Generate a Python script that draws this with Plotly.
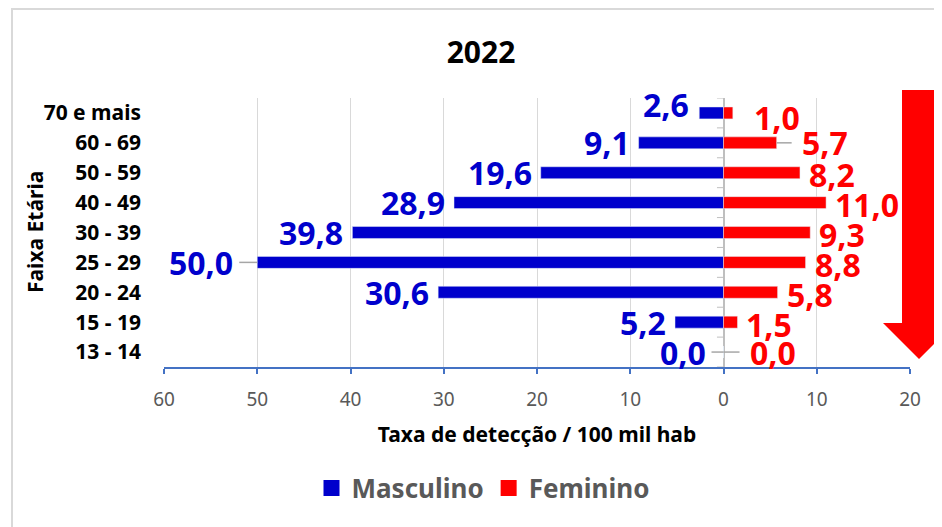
import plotly.graph_objects as go

# ---- data ----
faixas = ["70 e mais", "60 - 69", "50 - 59", "40 - 49", "30 - 39",
          "25 - 29", "20 - 24", "15 - 19", "13 - 14"]
masculino = [2.6, 9.1, 19.6, 28.9, 39.8, 50.0, 30.6, 5.2, 0.0]
feminino = [1.0, 5.7, 8.2, 11.0, 9.3, 8.8, 5.8, 1.5, 0.0]
x_ticks = [-60, -50, -40, -30, -20, -10, 0, 10, 20]
titulo = "2022"

# ---- style ----
BLUE = "#0000CC"
RED = "#FF0000"
GREY_LEADER = "#A6A6A6"
FONT = "Noto Sans"
# label offsets (px gap from bar end, vertical shift) for labels moved in the original
nudge_m = {"70 e mais": (8, 8), "25 - 29": (22, 0), "13 - 14": (16, 0)}
nudge_f = {"70 e mais": (19, -5), "60 - 69": (23, 0), "13 - 14": (24, 0)}
leader_m = {"25 - 29", "13 - 14"}
leader_f = {"60 - 69", "13 - 14"}

OFF = 8  # page body margin
W, H = 942 - OFF, 527 - OFF
L, T = 164 - OFF, 98 - OFF
R = W - (910 - OFF)
B = H - (367 - OFF)
PW, PH = W - L - R, H - T - B
UNIT = PW / 80.0  # px per data unit


def px(x):  # reference-picture x -> paper
    return (x - OFF - L) / PW


def py(y):  # reference-picture y -> paper
    return (H - B - (y - OFF)) / PH


def fmt(v):
    return f"{v:.1f}".replace(".", ",")


fig = go.Figure()
fig.add_trace(go.Bar(y=faixas, x=[-v for v in masculino], orientation="h",
                     name="Masculino", marker_color=BLUE, showlegend=False, legendgroup="m",
                     customdata=masculino, hovertemplate="%{y}: %{customdata}<extra>Masculino</extra>"))
fig.add_trace(go.Bar(y=faixas, x=feminino, orientation="h", showlegend=False, legendgroup="f",
                     name="Feminino", marker_color=RED))
# legend entries with larger square keys
fig.add_trace(go.Scatter(x=[None], y=[None], mode="markers", name="Masculino", legendgroup="m",
                         marker=dict(symbol="square", size=16, color=BLUE)))
fig.add_trace(go.Scatter(x=[None], y=[None], mode="markers", name="Feminino", legendgroup="f",
                         marker=dict(symbol="square", size=16, color=RED)))

annotations = []
shapes = []
for cat, m, f in zip(faixas, masculino, feminino):
    gm, dm = nudge_m.get(cat, (7, 0))
    gf, df = nudge_f.get(cat, (7, -2))
    annotations.append(dict(x=-m, y=cat, xref="x", yref="y", text=fmt(m), showarrow=False,
                            xanchor="right", yanchor="middle", xshift=-gm, yshift=dm,
                            font=dict(family=FONT, size=32, color=BLUE, weight="bold")))
    annotations.append(dict(x=f, y=cat, xref="x", yref="y", text=fmt(f), showarrow=False,
                            xanchor="left", yanchor="middle", xshift=gf, yshift=df,
                            font=dict(family=FONT, size=32, color=RED, weight="bold")))
    # small leader lines like the original
    if cat in leader_m:
        shapes.append(dict(type="line", xref="x", yref="y", x0=-m, x1=-m - (gm - 4) / UNIT,
                           y0=cat, y1=cat, line=dict(color=GREY_LEADER, width=1.5)))
    if cat in leader_f:
        shapes.append(dict(type="line", xref="x", yref="y", x0=f, x1=f + (gf - 8) / UNIT,
                           y0=cat, y1=cat, line=dict(color=GREY_LEADER, width=1.5)))

annotations.append(dict(text="Faixa Etária", textangle=-90, xref="paper", yref="paper",
                        x=px(35), y=py(232), xanchor="center", yanchor="middle", showarrow=False,
                        font=dict(family=FONT, size=21, color="black", weight="bold")))

# chart border (light grey)
shapes.append(dict(type="path", xref="paper", yref="paper",
                   path=f"M {px(12)},{py(560)} L {px(12)},{py(9)} L {px(980)},{py(9)}",
                   line=dict(color="#D9D9D9", width=2)))
# minor ticks on the vertical axis at 0
for k in range(len(faixas) + 1):
    shapes.append(dict(type="line", xref="x", yref="y", x0=-0.7, x1=0,
                       y0=k - 0.5, y1=k - 0.5, line=dict(color="#BFBFBF", width=1)))
# red downward arrow
pts = [(902, 90), (937, 90), (937, 323), (955, 323), (919, 359), (883, 323), (902, 323)]
path = "M " + " L ".join(f"{px(a)},{py(b)}" for a, b in pts) + " Z"
shapes.append(dict(type="path", xref="paper", yref="paper", path=path,
                   fillcolor=RED, line=dict(color=RED, width=0)))

fig.update_layout(
    width=W, height=H,
    margin=dict(l=L, r=R, t=T, b=B),
    paper_bgcolor="white", plot_bgcolor="white",
    barmode="overlay", bargap=0.6,
    font=dict(family=FONT, color="#595959"),
    title=dict(text=titulo, x=px(481), xanchor="center", xref="paper",
               y=1 - (52 - OFF) / H, yanchor="middle",
               font=dict(family=FONT, size=30, color="black", weight="bold")),
    legend=dict(orientation="h", x=px(483), xanchor="center", y=py(488), yanchor="middle",
                font=dict(family=FONT, size=26, color="#595959", weight="bold"),
                itemwidth=30, itemsizing="trace", traceorder="normal"),
    shapes=shapes,
    annotations=annotations,
)
fig.update_xaxes(range=[-60, 20], tickvals=x_ticks, ticktext=[str(abs(v)) for v in x_ticks],
                 showgrid=True, gridcolor="#D9D9D9", gridwidth=1,
                 zeroline=True, zerolinecolor="#BFBFBF", zerolinewidth=1.5,
                 showline=True, linecolor="#4472C4", linewidth=1.5,
                 ticks="outside", ticklen=5, tickcolor="#4472C4", tickwidth=1.5,
                 ticklabelstandoff=9,
                 tickfont=dict(family=FONT, size=19, color="#595959"),
                 title=dict(text="Taxa de detecção / 100 mil hab", standoff=17,
                            font=dict(family=FONT, size=21, color="black", weight="bold")))
fig.update_yaxes(type="category", categoryorder="array", categoryarray=faixas[::-1],
                 range=[-0.5, len(faixas) - 0.5], showgrid=False, showline=False,
                 ticks="", ticklabelstandoff=22,
                 tickfont=dict(family=FONT, size=21, color="black", weight="bold"))

fig.write_html("out.html")
